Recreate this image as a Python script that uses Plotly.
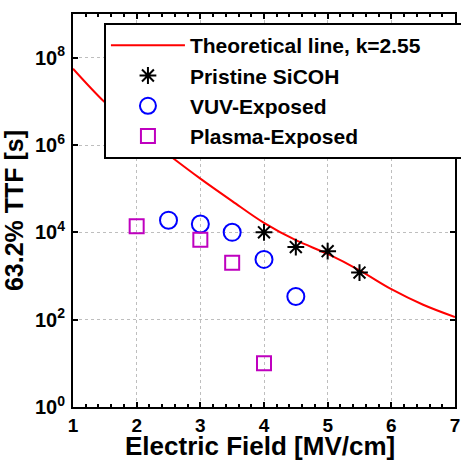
import plotly.graph_objects as go

# Theoretical line, E in MV/cm, TTF in s
line_e = [1.0, 1.5, 2.0, 2.5, 3.0, 3.5, 4.0, 4.5, 5.0, 5.5, 6.0, 6.5, 7.0]
line_ttf = [5.6e7, 9.5e6, 2.2e6, 6.0e5, 1.7e5, 5.2e4, 1.65e4, 6.6e3, 3.2e3, 1.35e3, 5.0e2, 2.2e2, 1.15e2]

pristine_e = [4.0, 4.5, 5.0, 5.5]
pristine_ttf = [1.0e4, 4.6e3, 3.7e3, 1.2e3]

vuv_e = [2.5, 3.0, 3.5, 4.0, 4.5]
vuv_ttf = [1.9e4, 1.55e4, 1.0e4, 2.4e3, 3.4e2]

plasma_e = [2.0, 3.0, 3.5, 4.0]
plasma_ttf = [1.38e4, 6.8e3, 2.0e3, 1.0e1]

y_tickvals = [1, 1e2, 1e4, 1e6, 1e8]
y_ticktext = ["10<sup>0</sup>", "10<sup>2</sup>", "10<sup>4</sup>", "10<sup>6</sup>", "10<sup>8</sup>"]
x_tickvals = [1, 2, 3, 4, 5, 6, 7]

FONT = "Liberation Sans"
PAD = "\u00a0" * 7

fig = go.Figure()
fig.add_trace(go.Scatter(x=line_e, y=line_ttf, mode="lines", line=dict(color="#FF0000", width=2, shape="spline"),
                         name="Theoretical line, k=2.55" + PAD, legendgroup="a"))
fig.add_trace(go.Scatter(x=pristine_e, y=pristine_ttf, mode="markers",
                         marker=dict(symbol="asterisk-open", size=14, color="black", line=dict(color="black", width=2)),
                         name="Pristine SiCOH", legendgroup="b"))
fig.add_trace(go.Scatter(x=vuv_e, y=vuv_ttf, mode="markers",
                         marker=dict(symbol="circle-open", size=17, color="#0000FF", line=dict(color="#0000FF", width=2)),
                         name="VUV-Exposed", legendgroup="c"))
fig.add_trace(go.Scatter(x=plasma_e, y=plasma_ttf, mode="markers",
                         marker=dict(symbol="square-open", size=14, color="#BF00BF", line=dict(color="#BF00BF", width=2)),
                         name="Plasma-Exposed", legendgroup="d"))

axis_common = dict(showline=True, linecolor="black", linewidth=2, mirror="ticks", ticks="inside",
                   tickcolor="black", ticklen=5, tickwidth=1.5, automargin=False,
                   showgrid=True, gridcolor="#BEBEBE", griddash="dot", gridwidth=1,
                   zeroline=False)

fig.update_xaxes(range=[0.9999, 7.0001], tickvals=x_tickvals, ticktext=[str(v) for v in x_tickvals],
                 tickfont=dict(family=FONT, size=19, color="black", weight="bold"),
                 ticklabeloverflow="allow",
                 minor=dict(dtick=0.2, ticks="inside", ticklen=3, tickcolor="black", showgrid=False),
                 **axis_common)
fig.update_yaxes(type="log", range=[0, 9], tickvals=y_tickvals, ticktext=y_ticktext,
                 tickfont=dict(family=FONT, size=20, color="black", weight="bold"),
                 ticklabelstandoff=2,
                 title=dict(text="63.2% TTF [s]", font=dict(family=FONT, size=25, color="black", weight="bold"),
                            standoff=4),
                 **axis_common)

fig.add_annotation(text="Electric Field [MV/cm]", xref="paper", yref="paper", x=0.49, y=-0.057,
                   xanchor="center", yanchor="top", showarrow=False,
                   font=dict(family=FONT, size=26, color="black", weight="bold"))

fig.update_layout(width=461, height=461, margin=dict(l=73, r=6, t=14, b=54, autoexpand=False),
                  paper_bgcolor="white", plot_bgcolor="white",
                  showlegend=True,
                  legend=dict(x=0.081, y=0.977, xanchor="left", yanchor="top",
                              bgcolor="white", bordercolor="black", borderwidth=2,
                              font=dict(family=FONT, size=21, color="black", weight="bold"),
                              itemwidth=74, tracegroupgap=0))

fig.write_html("out.html", config={"displayModeBar": False},
               post_script="document.body.style.margin='0';document.body.style.padding='0';")
